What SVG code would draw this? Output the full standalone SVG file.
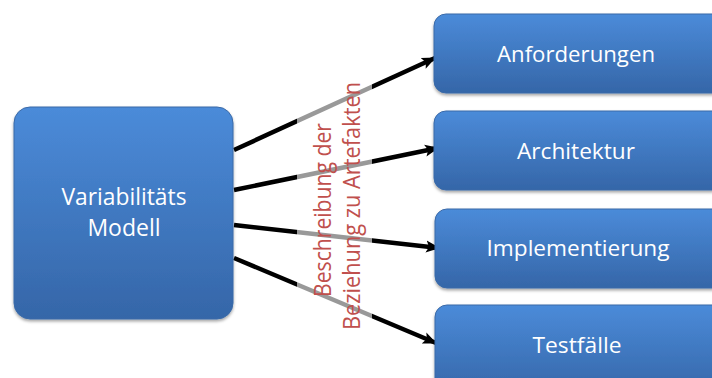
<svg xmlns="http://www.w3.org/2000/svg" width="712" height="378" viewBox="0 0 712 378">
<defs>
<linearGradient id="g" x1="0" y1="0" x2="0" y2="1">
<stop offset="0" stop-color="#4b8bd9"/>
<stop offset="1" stop-color="#3566a8"/>
</linearGradient>
<filter id="sh" x="-10%" y="-10%" width="120%" height="130%">
<feDropShadow dx="0" dy="2" stdDeviation="1.5" flood-color="#000" flood-opacity="0.35"/>
</filter>
<marker id="ah" markerUnits="userSpaceOnUse" markerWidth="14" markerHeight="14" viewBox="0 0 14 14" refX="13" refY="7" orient="auto">
<path d="M0,1 L14,7 L0,13 L3,7 Z" fill="#000"/>
</marker>
<style>
.box{fill:url(#g);stroke:#3a6aa8;stroke-width:1;filter:url(#sh)}
.lbl{font-family:"Open Sans","Liberation Sans",sans-serif;font-size:21px;fill:#ffffff;text-anchor:middle}
.big{font-size:23px}
.con{stroke:#000;stroke-width:4.5;fill:none;marker-end:url(#ah)}
.note{font-family:"Open Sans","Liberation Sans",sans-serif;font-size:23px;fill:#c0504d;text-anchor:middle}
</style>
</defs>
<rect width="712" height="378" fill="#ffffff"/>
<g id="connectors">
<line class="con" x1="234" y1="150" x2="435" y2="58"/>
<line class="con" x1="234" y1="190" x2="438" y2="148"/>
<line class="con" x1="234" y1="225" x2="439" y2="248"/>
<line class="con" x1="234" y1="258" x2="436" y2="343"/>
</g>
<g id="node-modell">
<rect class="box" x="14" y="107" width="219" height="212" rx="16"/>
<text class="lbl big" x="124" y="205" textLength="125" lengthAdjust="spacingAndGlyphs">Variabilitäts</text>
<text class="lbl big" x="124" y="236">Modell</text>
</g>
<g id="node-anforderungen">
<rect class="box" x="434" y="14" width="290" height="79" rx="12"/>
<text class="lbl" x="576" y="62" textLength="158" lengthAdjust="spacingAndGlyphs">Anforderungen</text>
</g>
<g id="node-architektur">
<rect class="box" x="434" y="111" width="290" height="79" rx="12"/>
<text class="lbl" x="576" y="159" textLength="118" lengthAdjust="spacingAndGlyphs">Architektur</text>
</g>
<g id="node-implementierung">
<rect class="box" x="435" y="209" width="290" height="79" rx="12"/>
<text class="lbl" x="578" y="256" textLength="183" lengthAdjust="spacingAndGlyphs">Implementierung</text>
</g>
<g id="node-testfaelle">
<rect class="box" x="435" y="305" width="290" height="90" rx="12"/>
<text class="lbl" x="577" y="353" textLength="89" lengthAdjust="spacingAndGlyphs">Testfälle</text>
</g>
<g id="label-beschreibung">
<rect x="297" y="68" width="75" height="274" fill="#ffffff" fill-opacity="0.6"/>
<text class="note" transform="translate(331,210) rotate(-90)" textLength="174" lengthAdjust="spacingAndGlyphs">Beschreibung der</text>
<text class="note" transform="translate(360,206) rotate(-90)" textLength="248" lengthAdjust="spacingAndGlyphs">Beziehung zu Artefakten</text>
</g>
</svg>
